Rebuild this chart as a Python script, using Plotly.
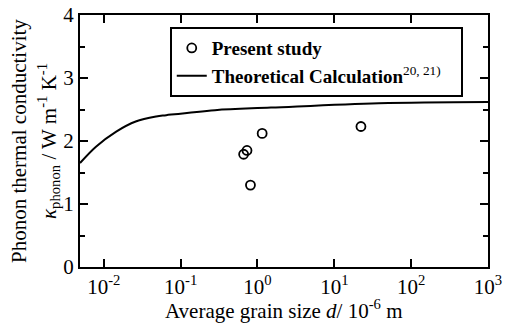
import plotly.graph_objects as go

# Measured data (present study)
grain_size = [0.66, 0.73, 0.81, 1.15, 22.2]
kappa = [1.79, 1.85, 1.30, 2.12, 2.23]

# Theoretical calculation curve
calc_size = [0.0049, 0.0079, 0.0145, 0.026, 0.048, 0.065, 0.28, 1.5, 38, 1000]
calc_kappa = [1.65, 1.91, 2.15, 2.31, 2.39, 2.41, 2.49, 2.53, 2.60, 2.62]

x_tick_vals = [0.01, 0.1, 1, 10, 100, 1000]
x_tick_text = ["10<sup>-2</sup>", "10<sup>-1</sup>", "10<sup>0</sup>",
               "10<sup>1</sup>", "10<sup>2</sup>", "10<sup>3</sup>"]
y_tick_vals = [0, 1, 2, 3, 4]

x_title = "Average grain size <i>d</i>/ 10<sup>-6</sup> m"
y_title_1 = "Phonon thermal conductivity"
y_title_2 = "<i>κ</i><sub>phonon</sub> / W m<sup>-1</sup> K<sup>-1</sup>"

FONT = "Liberation Serif"

fig = go.Figure()
fig.add_trace(go.Scatter(
    x=grain_size, y=kappa, mode="markers", name="<b>Present study</b>",
    marker=dict(symbol="circle-open", size=9, color="black", line=dict(width=1.8, color="black")),
))
fig.add_trace(go.Scatter(
    x=calc_size, y=calc_kappa, mode="lines", line_shape="spline",
    name="<b>Theoretical Calculation</b><sup>20, 21)</sup>&nbsp;&nbsp;&nbsp;",
    line=dict(color="black", width=2),
))

fig.update_layout(
    width=508, height=325,
    margin=dict(l=80, r=20, t=15, b=58, autoexpand=False),
    paper_bgcolor="white", plot_bgcolor="white",
    font=dict(family=FONT, color="black", size=20),
    legend=dict(
        x=0.22, y=0.952, xanchor="left", yanchor="top",
        bordercolor="black", borderwidth=2, bgcolor="white",
        font=dict(family=FONT, size=19, color="black"),
        itemwidth=30, tracegroupgap=0,
    ),
    xaxis=dict(
        type="log", range=[-2.31, 3], automargin=False,
        tickvals=x_tick_vals, ticktext=x_tick_text,
        ticks="inside", ticklen=8, tickwidth=2, tickcolor="black",
        showline=True, linecolor="black", linewidth=2, mirror="ticks",
        showgrid=False, zeroline=False,
        tickfont=dict(family=FONT, size=21),
    ),
    yaxis=dict(
        range=[0, 4], tickvals=y_tick_vals, automargin=False,
        ticks="inside", ticklen=8, tickwidth=2, tickcolor="black",
        minor=dict(dtick=0.5, ticks="inside", ticklen=5, tickwidth=2, tickcolor="black"),
        showline=True, linecolor="black", linewidth=2, mirror="ticks",
        showgrid=False, zeroline=False,
        tickfont=dict(family=FONT, size=21),
    ),
)

fig.add_annotation(text=x_title, xref="paper", yref="paper", x=0.5, y=0,
                   xanchor="center", yanchor="middle", yshift=-42, showarrow=False,
                   font=dict(family=FONT, size=21, color="black"))
fig.add_annotation(text=y_title_1, xref="paper", yref="paper", x=0, y=0.5,
                   xanchor="center", yanchor="middle", xshift=-61, textangle=-90, showarrow=False,
                   font=dict(family=FONT, size=21, color="black"))
fig.add_annotation(text=y_title_2, xref="paper", yref="paper", x=0, y=0.5,
                   xanchor="center", yanchor="middle", xshift=-32, textangle=-90, showarrow=False,
                   font=dict(family=FONT, size=21, color="black"))

fig.write_html("out.html", config={"displayModeBar": False},
               post_script="document.body.style.margin='0';")
